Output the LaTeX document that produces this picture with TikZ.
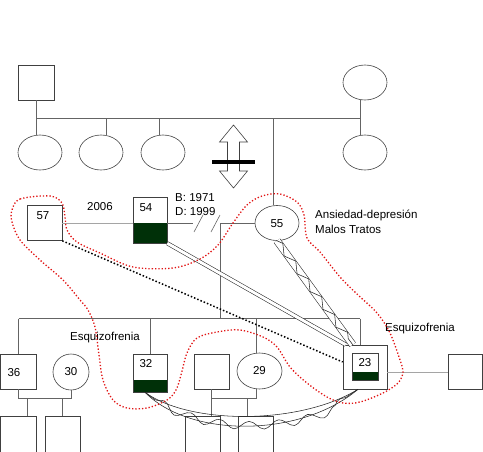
\documentclass[tikz,border=0pt]{standalone}
\usepackage{fontspec}
\setmainfont{Liberation Sans}
\usetikzlibrary{shapes.geometric,decorations.pathmorphing,calc}
\definecolor{darkfill}{RGB}{0,48,8}
\definecolor{linegray}{RGB}{100,100,100}
\definecolor{lightline}{RGB}{165,165,165}
\definecolor{loopred}{RGB}{225,20,20}
\begin{document}
\begin{tikzpicture}[x=1pt,y=-1pt,
  sq/.style={draw=black!75, line width=0.6pt, rectangle, minimum width=36pt, minimum height=35pt, inner sep=0pt},
  el/.style={draw=black!75, line width=0.6pt, ellipse, minimum width=44pt, minimum height=35pt, inner sep=0pt},
  lbl/.style={font=\fontsize{11.5}{13}\selectfont, inner sep=0pt},
  gl/.style={draw=linegray, line width=0.6pt},
  ll/.style={draw=lightline, line width=0.6pt},
  darkbottom/.style={path picture={\fill[darkfill] (path picture bounding box.south west) rectangle ([yshift=#1]path picture bounding box.south east);}},
  relline/.style={draw=black!85, line width=0.55pt},
  redloop/.style={draw=loopred, dotted, line width=1.3pt}
]
\useasboundingbox (0,0) rectangle (483,451);
\clip (0,0) rectangle (483,451);

% grandparents generation
\node[sq] (gf) at (36,82.5) {};
\node[el] (gm) at (365,82.5) {};
\node[el] (a1) at (40,152.5) {};
\node[el] (a2) at (101,152.5) {};
\node[el] (a3) at (163,152.5) {};
\node[el] (a4) at (365,152.5) {};
\coordinate (sibL) at (36,118);
\coordinate (sibR) at (360,118);
\coordinate (s2) at (106,118);
\coordinate (s3) at (159,118);
\coordinate (s5) at (273,118);
\draw[gl] (gf.south) -- (sibL) -- (sibR) -- (sibR |- gm.south);
\draw[gl] (sibL) -- (sibL |- a1.north);
\draw[gl] (s2) -- (s2 |- a2.north);
\draw[gl] (s3) -- (s3 |- a3.north);
\draw[gl] (sibR) -- (sibR |- a4.north);

% double arrow with bar
\draw[draw=black!75, line width=0.6pt, fill=white] (233.5,125) -- (247.5,142) -- (239.5,142) -- (239.5,171) -- (247.5,171) -- (233.5,188) -- (219.5,171) -- (227.5,171) -- (227.5,142) -- (219.5,142) -- cycle;
\draw[line width=4pt] (212,162) -- (255,162);

% parents generation
\node[sq, minimum width=35pt] (p57) at (44.5,223) {};
\node[lbl] (l57) at (43,216) {57};
\node[sq, minimum width=34pt, minimum height=46pt, darkbottom=20pt] (p54) at (150,220) {};
\node[lbl] (l54) at (146,208) {54};
\node[el] (p55) at (277,223) {};
\node[lbl] (l55) at (277,224) {55};
\draw[gl] (s5) -- (s5 |- p55.north);

\draw[ll] (p57.east) -- (p57.east -| p54.west);
\node[lbl] (y2006) at (100,207) {2006};
\coordinate (brk1) at (193,223);
\coordinate (brk2) at (220,223);
\draw[gl] (p57.east -| p54.east) -- (brk1);
\draw[gl] (brk2) -- (p55.west);
\draw[gl] (194,232) -- (203,215);
\draw[gl] (211,232) -- (220,215);
\node[lbl, anchor=west] (bd1) at (175,198) {B: 1971};
\node[lbl, anchor=west] (bd2) at (175,212) {D: 1999};
\node[lbl, anchor=west] (an1) at (315,215) {Ansiedad-depresión};
\node[lbl, anchor=west] (an2) at (315,229) {Malos Tratos};

% children generation
\coordinate (chL) at (18.5,318.5);
\coordinate (chR) at (360,318.5);
\coordinate (c32) at (150,318.5);
\coordinate (c29) at (256,318.5);
\draw[gl] (chL) -- (chR);
\draw[gl] (brk2) -- (brk2 |- chL);

\node[sq] (p36) at (18.5,371.5) {};
\node[lbl] (l36) at (14,373) {36};
\node[sq, circle, minimum size=36pt] (p30) at (71,372) {};
\node[lbl] (l30) at (71,372) {30};
\node[sq, minimum width=34pt, minimum height=38pt, darkbottom=12pt] (p32) at (150,373) {};
\node[lbl] (l32) at (146,364) {32};
\node[sq, minimum width=35pt] (pu) at (211.5,371.5) {};
\node[el, minimum width=45pt, minimum height=36pt] (p29) at (259.5,371) {};
\node[lbl] (l29) at (259.5,371) {29};
\node[sq, minimum width=44pt, minimum height=44pt] (p23) at (365,367) {};
\node[draw=black!75, line width=0.5pt, rectangle, minimum width=26pt, minimum height=27pt, inner sep=0pt, darkbottom=8pt] (p23in) at (365,366.5) {};
\node[lbl] (l23) at (365,362.5) {23};
\node[sq, minimum width=34pt] (pr) at (465,371.5) {};

\draw[gl] (chL) -- (p36.north);
\draw[gl] (c32) -- (p32.north);
\draw[gl] (c29) -- (c29 |- p29.north);
\draw[gl] (chR) -- (chR |- p23.north);
\draw[ll] ([yshift=-5pt]p23.east) -- ([yshift=-5pt]p23.east -| pr.west);

\node[lbl] (esq1) at (105,338) {Esquizofrenia};
\node[lbl] (esq2) at (420,329) {Esquizofrenia};

% grandchildren
\node[sq, minimum height=38pt] (g1) at (18.5,435) {};
\node[sq, minimum width=35pt, minimum height=38pt] (g2) at (62.5,435) {};
\node[sq, minimum width=35pt, minimum height=38pt] (g3) at (202.5,435) {};
\node[sq, minimum width=35pt, minimum height=38pt] (g4) at (255.5,435) {};
\coordinate (m1a) at (27,398);
\coordinate (m1b) at (62.5,398);
\coordinate (m2a) at (211.5,398);
\coordinate (m2b) at (247,398);
\draw[gl] (p36.south) -- (p36.south |- m1a) -- (p30.south |- m1a) -- (p30.south);
\draw[gl] (m1a) -- (m1a |- g1.north);
\draw[gl] (m1b) -- (m1b |- g2.north);
\draw[gl] (pu.south) -- (m2a) -- (c29 |- m2a) -- (c29 |- p29.south);
\draw[gl] (m2a) -- (m2a |- g3.north);
\draw[gl] (m2b) -- (m2b |- g4.north);

% relationship lines
\draw[black, dotted, line width=1.5pt] (p57.south east) -- ([yshift=5pt]p23.west);
\draw[relline, double distance=3pt] (p54.south east) -- ([xshift=3pt]p23.north west);
\coordinate (vA) at (p55.south);
\coordinate (vB) at ([xshift=10pt]p23.north west);
\draw[relline, double distance=6.5pt] (vA) -- (vB);
\draw[relline, decorate, decoration={zigzag, amplitude=3.2pt, segment length=22pt}] (vA) -- (vB);

\coordinate (bA) at ([xshift=-5pt]p32.south);
\coordinate (bB) at ([xshift=-7pt]p23.south);
\draw[relline] (bA) .. controls (190,425) and (300,425) .. (bB);
\draw[relline] (bA) .. controls (190,438) and (300,438) .. (bB);
\draw[relline, decorate, decoration={snake, amplitude=4pt, segment length=30pt, pre length=12pt, post length=10pt}] (bA) .. controls (190,431.5) and (300,431.5) .. (bB);

% red dotted cluster
\draw[redloop] plot[smooth cycle, tension=0.55] coordinates {
(12,210) (20,199) (50,196) (62,203) (65,217) (67,230) (77,242) (100,253) (133,267)
(173,268) (200,259) (218,245) (233,223) (247,205) (262,196) (280,194) (297,202)
(304,215) (307,238) (320,252) (340,277) (357,294) (377,313) (390,333) (400,360)
(403,372) (398,383) (383,393) (360,402) (343,403) (327,397) (307,383) (290,367)
(277,347) (263,337) (240,330) (217,332) (197,338) (187,353) (181,375) (176,390)
(167,400) (147,408) (127,408) (113,400) (103,380) (99,355) (95,327) (88,310)
(80,300) (63,280) (40,260) (20,240) (12,222)};
\end{tikzpicture}
\end{document}
